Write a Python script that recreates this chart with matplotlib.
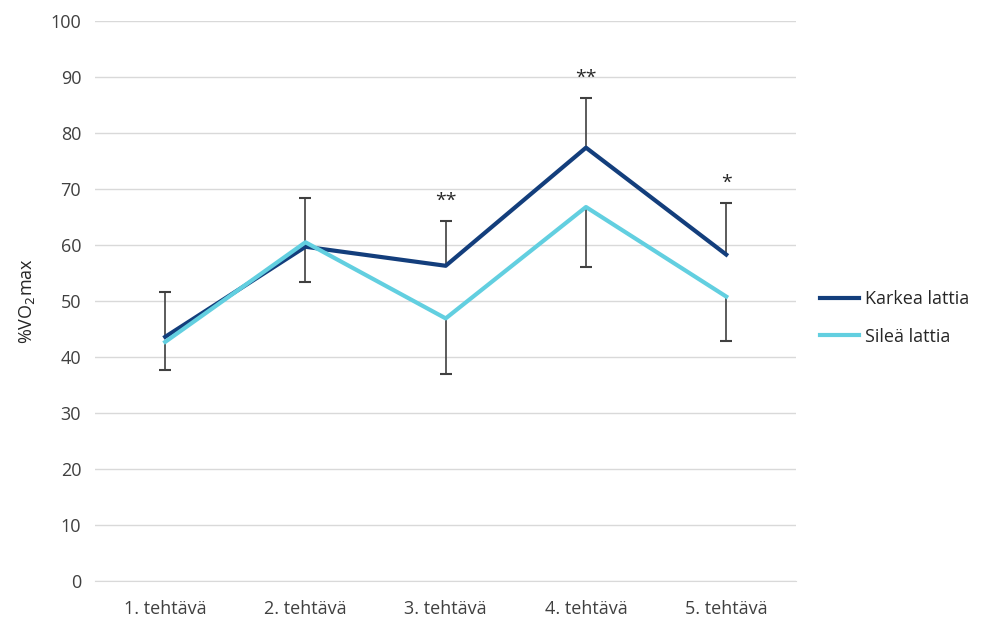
import matplotlib.pyplot as plt

plt.rcParams['font.family'] = ['Open Sans', 'DejaVu Sans']

tasks = ['1. tehtävä', '2. tehtävä', '3. tehtävä', '4. tehtävä', '5. tehtävä']
karkea = [43.6, 59.7, 56.3, 77.4, 58.3]
silea = [42.7, 60.5, 46.9, 66.8, 50.8]
karkea_err_up = [8.1, 8.7, 8.0, 8.9, 9.2]      # upward bars on Karkea
silea_err_down = [5.0, 7.1, 10.0, 10.7, 7.9]   # downward bars on Sileä
stars = ['', '', '**', '**', '*']

fig = plt.figure(figsize=(9.85, 6.22), dpi=100)
ax = fig.add_axes([0.0965, 0.066, 0.712, 0.9])

x = list(range(len(tasks)))
ax.plot(x, karkea, color='#133E7C', lw=3, label='Karkea lattia', zorder=3)
ax.plot(x, silea, color='#62CFE0', lw=3, label='Sileä lattia', zorder=3)

# one-sided error bars, cap only at the far end
tops = [k + e for k, e in zip(karkea, karkea_err_up)]
bots = [s - e for s, e in zip(silea, silea_err_down)]
ax.vlines(x, karkea, tops, color='#404040', lw=1.2, zorder=2)
ax.vlines(x, bots, silea, color='#404040', lw=1.2, zorder=2)
ax.plot(x, tops, ls='none', marker='_', ms=9, mew=1.5, color='#404040', zorder=2)
ax.plot(x, bots, ls='none', marker='_', ms=9, mew=1.5, color='#404040', zorder=2)

for i, s in enumerate(stars):
    if s:
        ax.text(i, tops[i] + 2.0, s, ha='center', va='bottom',
                fontsize=14, color='#262626')

ax.set_xlim(-0.5, 4.5)
ax.set_ylim(0, 100)
ax.set_yticks(range(0, 101, 10))
ax.set_xticks(x)
ax.set_xticklabels(tasks)
ax.grid(axis='y', color='#D9D9D9', lw=1)
ax.set_axisbelow(True)
for sp in ax.spines.values():
    sp.set_visible(False)
ax.spines['bottom'].set_visible(True)
ax.spines['bottom'].set_color('#D9D9D9')
ax.tick_params(axis='both', length=0, labelsize=13, colors='#404040', pad=10)
ax.tick_params(axis='x', pad=14)
ax.set_ylabel('%VO$_2$max', fontsize=13, color='#262626', labelpad=10)

ax.legend(loc='center left', bbox_to_anchor=(1.01, 0.47), frameon=False,
          fontsize=13, handlelength=2.2, handletextpad=0.3, labelspacing=1.1,
          labelcolor='#262626')

fig.savefig('out.png', dpi=100)
